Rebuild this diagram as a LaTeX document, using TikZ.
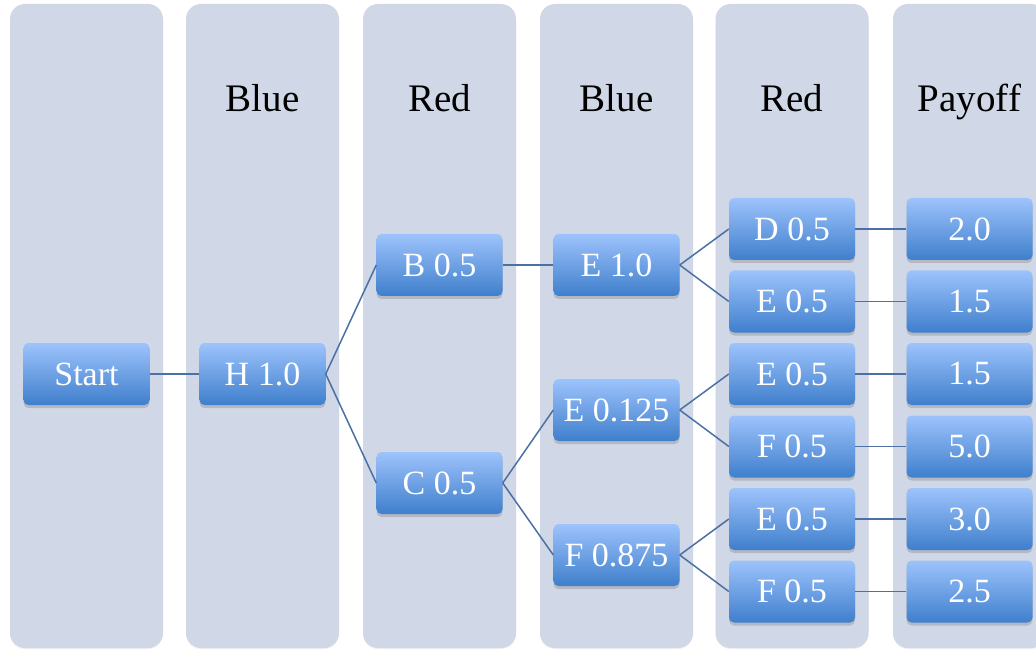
\documentclass[tikz,border=0pt]{standalone}
\usepackage{fontspec}
\setmainfont{Liberation Serif}
\usetikzlibrary{shadows}
\definecolor{lanegray}{HTML}{D0D7E6}
\definecolor{boxtop}{HTML}{9DC3FC}
\definecolor{boxbot}{HTML}{3F7FCC}
\definecolor{linkblue}{HTML}{4A70A4}
\begin{document}
\begin{tikzpicture}[x=1pt,y=-1pt,
    lane/.style={fill=lanegray, rounded corners=15pt,
      drop shadow={opacity=0.12, shadow xshift=0pt, shadow yshift=-1pt}},
    box/.style={rounded corners=5pt, minimum width=126pt, minimum height=62pt,
      inner sep=0pt, top color=boxtop, bottom color=boxbot, text=white,
      font=\fontsize{34}{40}\selectfont,
      drop shadow={opacity=0.35, shadow xshift=0pt, shadow yshift=-3pt}},
    head/.style={anchor=base, font=\fontsize{39}{46}\selectfont},
    link/.style={draw=linkblue, line width=1.5pt}]
  \useasboundingbox (0,0) rectangle (1036,652);
  % columns
  \foreach \x in {86.5,262.5,439.5,616.5,792,969.5}
    \fill[lane] (\x-76.5,4) rectangle (\x+76.5,648);
  \node[head] (hd1) at (262.5,112) {Blue};
  \node[head] (hd2) at (439.5,112) {Red};
  \node[head] (hd3) at (616.5,112) {Blue};
  \node[head] (hd4) at (792,112) {Red};
  \node[head] (hd5) at (969.5,112) {Payoff};
  % moves
  \node[box] (start) at (86.5,374) {Start};
  \node[box] (h) at (262.5,374) {H 1.0};
  \node[box] (b) at (439.5,265) {B 0.5};
  \node[box] (c) at (439.5,483) {C 0.5};
  \node[box] (e1) at (616.5,265) {E 1.0};
  \node[box] (e2) at (616.5,410) {E 0.125};
  \node[box] (f1) at (616.5,555) {F 0.875};
  \node[box] (rd) at (792,229) {D 0.5};
  \node[box] (re1) at (792,301.5) {E 0.5};
  \node[box] (re2) at (792,374) {E 0.5};
  \node[box] (rf1) at (792,446.5) {F 0.5};
  \node[box] (re3) at (792,519) {E 0.5};
  \node[box] (rf2) at (792,591.5) {F 0.5};
  % payoffs
  \node[box] (p1) at (969.5,229) {2.0};
  \node[box] (p2) at (969.5,301.5) {1.5};
  \node[box] (p3) at (969.5,374) {1.5};
  \node[box] (p4) at (969.5,446.5) {5.0};
  \node[box] (p5) at (969.5,519) {3.0};
  \node[box] (p6) at (969.5,591.5) {2.5};
  \foreach \a/\b in {start/h, h/b, h/c, b/e1, c/e2, c/f1,
      e1/rd, e1/re1, e2/re2, e2/rf1, f1/re3, f1/rf2,
      rd/p1, re1/p2, re2/p3, rf1/p4, re3/p5, rf2/p6}
    \draw[link] (\a.east) -- (\b.west);
\end{tikzpicture}
\end{document}
